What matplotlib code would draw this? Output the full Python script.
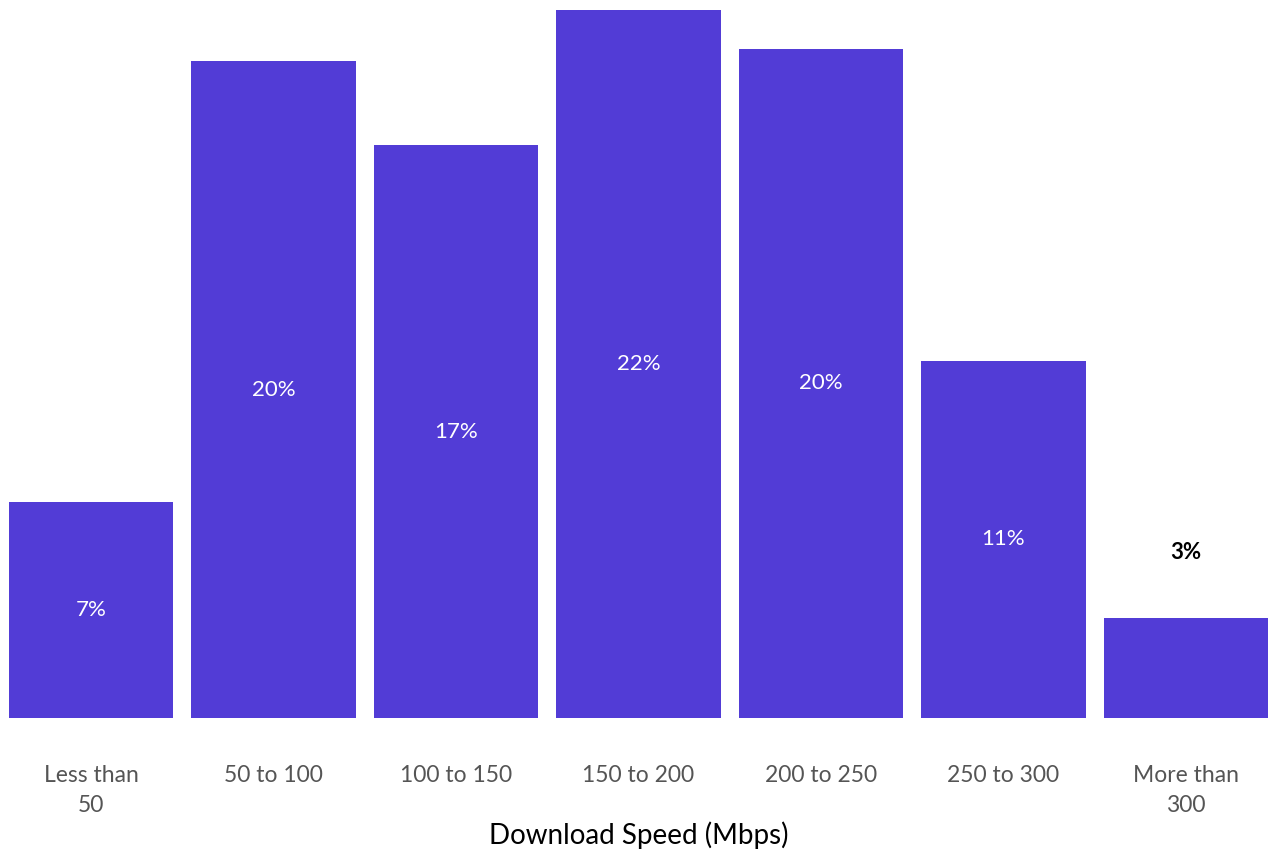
import matplotlib.pyplot as plt

plt.rcParams['font.family'] = ['Lato', 'DejaVu Sans']

# datos
categorias = ['Less than\n50', '50 to 100', '100 to 150', '150 to 200',
              '200 to 250', '250 to 300', 'More than\n300']
valores = [6.7, 20.4, 17.8, 22.0, 20.8, 11.1, 3.1]
etiquetas = ['7%', '20%', '17%', '22%', '20%', '11%', '3%']

color_barra = '#523cd6'

fig = plt.figure(figsize=(12.7, 8.51), dpi=100)
ax = fig.add_axes([9 / 1270, 133 / 851, 1259 / 1270, (718 - 10) / 851])

x = list(range(len(categorias)))
ax.bar(x, valores, width=0.9, color=color_barra)

# etiquetas de valor: dentro de la barra si cabe, encima si no
for xi, v, txt in zip(x, valores, etiquetas):
    if v > 5:
        ax.text(xi, v / 2, txt, ha='center', va='center', color='white', fontsize=16)
    else:
        ax.text(xi, v + 2.05, txt, ha='center', va='center', color='black',
                fontsize=16, fontweight='bold')

ax.set_xlim(-0.45, len(categorias) - 0.55)
ax.set_ylim(0, 22.0)
ax.set_xticks(x)
ax.set_xticklabels(categorias, fontsize=16.5, color='#555555', linespacing=1.5)
ax.tick_params(axis='x', length=0, pad=34)
ax.set_yticks([])
for s in ax.spines.values():
    s.set_visible(False)

ax.set_xlabel('Download Speed (Mbps)', fontsize=20, color='black', labelpad=4)

fig.savefig('out.png', dpi=100)
